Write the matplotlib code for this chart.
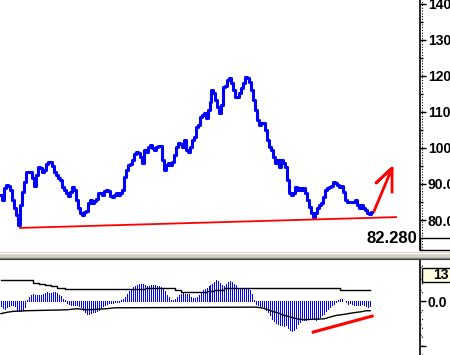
import matplotlib
matplotlib.use("Agg")
import matplotlib.pyplot as plt
from matplotlib.patches import Rectangle

# closing prices, one per bar
price = [86.9, 85.6, 88.9, 89.7, 89.4, 88.3, 85.6, 83.3, 81.4, 78.6,
         84.2, 87.8, 90.6, 93.3, 93.3, 93.3, 91.7, 89.4, 92.5, 94.7,
         94.4, 93.3, 93.9, 95.6, 96.1, 96.1, 95.0, 93.3, 92.5, 91.7,
         91.1, 89.2, 88.3, 87.5, 86.7, 87.8, 89.2, 88.3, 85.6, 83.3,
         81.9, 81.4, 82.2, 82.5, 84.7, 85.6, 84.7, 85.3, 85.8, 87.5,
         87.5, 86.9, 88.1, 88.3, 88.1, 86.7, 86.4, 86.9, 87.5, 86.9,
         87.5, 88.3, 91.9, 93.9, 95.3, 95.6, 96.7, 98.3, 98.9, 98.6,
         97.5, 95.8, 99.4, 98.9, 100.3, 100.8, 100.0, 99.4, 100.3, 100.6,
         100.6, 96.7, 93.9, 95.3, 95.8, 95.3, 96.1, 98.1, 100.3, 101.4,
         101.1, 100.3, 102.2, 99.4, 98.9, 100.3, 102.2, 103.1, 105.8, 106.4,
         108.6, 109.2, 109.7, 108.3, 110.6, 112.8, 116.1, 115.3, 113.3, 111.4,
         109.7, 111.9, 116.9, 117.2, 118.9, 119.4, 118.1, 116.1, 114.2, 114.2,
         115.3, 116.7, 118.1, 119.7, 119.4, 118.3, 116.1, 113.3, 110.6, 107.8,
         106.4, 106.9, 106.9, 105.0, 102.2, 100.3, 99.4, 97.5, 95.8, 96.7,
         94.7, 96.7, 95.8, 94.7, 91.1, 87.5, 86.9, 87.5, 89.2, 88.3,
         88.9, 88.3, 88.9, 87.5, 85.6, 83.6, 81.9, 80.8, 81.9, 83.3,
         84.2, 84.7, 86.4, 88.3, 88.9, 89.2, 89.4, 90.6, 90.3, 89.7,
         89.2, 89.4, 87.8, 85.6, 85.0, 85.0, 85.0, 85.0, 85.6, 84.2,
         83.3, 84.2, 83.3, 82.8, 81.9, 81.7, 82.28]

# oscillator histogram
hist = [-2.4, -3.0, -3.4, -2.7, -2.4, -1.9, -1.9, -2.4, -3.9, -4.4,
        -4.4, -4.1, -2.7, 0.6, 1.8, 2.8, 3.3, 2.8, 2.8, 2.8,
        2.8, 3.3, 3.6, 3.9, 3.6, 3.6, 3.9, 3.9, 3.6, 2.8,
        2.1, 1.0, 0.3, -0.9, -1.5, -1.9, -1.9, -1.9, -1.9, -2.4,
        -2.7, -3.9, -4.9, -5.9, -5.9, -5.3, -5.0, -4.9, -4.4, -3.9,
        -3.0, -2.4, -1.9, -1.2, -0.9, -0.9, -0.7, -0.4, -0.4, -0.4,
        0.3, 1.0, 1.8, 3.3, 4.4, 5.5, 6.2, 6.5, 7.1, 7.4,
        7.4, 7.4, 7.1, 6.5, 6.5, 7.0, 7.0, 7.0, 6.5, 6.5,
        6.2, 5.5, 4.4, 2.5, 1.8, 0.6, 0.3, 1.0, 1.8, 2.5,
        3.3, 3.6, 3.3, 3.3, 3.0, 1.8, 1.5, 1.5, 1.8, 2.5,
        3.6, 5.0, 5.5, 5.9, 6.5, 7.0, 7.7, 8.4, 9.2, 8.9,
        8.0, 7.0, 6.5, 7.7, 8.4, 8.9, 8.4, 7.7, 7.0, 5.9,
        5.5, 5.9, 5.9, 5.9, 5.5, 5.0, 3.3, 0.3, -1.2, -1.9,
        -2.4, -2.4, -3.0, -3.9, -4.9, -6.4, -7.9, -8.9, -9.8, -10.4,
        -10.8, -10.8, -11.3, -10.8, -11.9, -13.0, -13.3, -13.0, -11.9, -10.4,
        -9.3, -8.6, -8.6, -8.3, -8.0, -7.9, -8.0, -8.1, -8.3, -8.0,
        -7.1, -6.4, -5.6, -4.4, -3.4, -2.7, -1.9, -1.2, -0.4, 0.3,
        0.7, 1.0, -0.2, -0.4, -1.2, -0.9, -1.5, -1.6, -1.6, -1.9,
        -1.9, -1.5, -1.9, -2.4, -2.7, -2.4]

# band lines of the oscillator (bar index, level)
upper_x = [0, 15, 16, 19, 22, 25, 28, 32, 62, 64, 72, 83, 87, 90, 100, 103, 107, 111, 112, 127, 170, 185]
upper_y = [9.2, 9.2, 8.1, 7.7, 7.0, 6.5, 5.9, 5.2, 5.2, 5.2, 5.8, 5.8, 4.7, 4.0, 4.0, 4.4, 4.7, 5.0, 5.9, 5.8, 4.7, 4.7]
lower_x = [0, 3, 6, 13, 33, 38, 43, 53, 57, 128, 131, 134, 136, 139, 141, 144, 146, 149, 152, 162, 165, 168, 172, 176, 181, 183, 185]
lower_y = [-5.6, -5.0, -4.6, -4.3, -3.9, -3.4, -3.9, -3.4, -3.0, -2.7, -3.1, -3.9, -4.6, -5.3, -6.1, -6.8, -7.4, -8.0, -8.3, -7.9, -7.1, -6.4, -5.9, -5.3, -4.7, -4.3, -4.3]

# hand drawn red lines
support_x = [9.5, 198]
support_y = [77.8, 80.8]
arrow_x = [187, 196, 188, 196, 196]
arrow_y = [82.5, 94.4, 90.3, 94.4, 87.8]
div_x = [156.5, 186]
div_y = [-13.8, -6.7]

last = "82.280"

W, H = 450, 355
fig = plt.figure(figsize=(4.5, 3.55), dpi=100)
fig.patch.set_facecolor("white")

font = dict(family="Liberation Sans", weight="bold", size=10)

# ---- price panel
ax = fig.add_axes([0, 105 / H, 420 / W, 250 / H])
xs = list(range(len(price)))
ax.plot(xs, price, color="#0000ff", lw=2.2, drawstyle="steps-mid")
ax.plot(support_x, support_y, color="#ff0000", lw=1.3)
ax.plot(arrow_x, arrow_y, color="#ff0000", lw=2.0)
ax.set_xlim(-0.5, 210)
ax.set_ylim(71.67, 141.1)
ax.yaxis.tick_right()
ticks = [80, 90, 100, 110, 120, 130, 140]
ax.set_yticks(ticks)
ax.set_yticklabels(["%.1f" % t if t < 100 else "%d" % t for t in ticks], **font)
ax.set_yticks([85, 95, 105, 115, 125, 135], minor=True)
ax.tick_params(axis="y", which="major", direction="out", length=4, width=1, pad=1.5, right=True, left=False)
ax.tick_params(axis="y", which="minor", direction="out", length=2, width=1, right=True, left=False)
ax.set_xticks([])
for s in ["top", "left", "bottom"]:
    ax.spines[s].set_visible(False)
ax.spines["right"].set_linewidth(1.2)
ax.text(417 / 420, 4 / 250, last, transform=ax.transAxes, ha="right", va="bottom",
        family="Liberation Sans", weight="bold", size=12)

# ---- oscillator panel
bx = fig.add_axes([0, 0, 420 / W, 96 / H])
bx.vlines(range(len(hist)), 0, hist, colors="#0000ff", lw=0.72, antialiased=False)
bx.plot(upper_x, upper_y, color="black", lw=1.0, drawstyle="steps-post")
bx.plot(lower_x, lower_y, color="black", lw=1.0)
bx.plot(div_x, div_y, color="#ff0000", lw=2.2)
bx.set_xlim(-0.5, 210)
bx.set_ylim(-24, 18.7)
bx.yaxis.tick_right()
bx.set_yticks([0, -20])
bx.set_yticklabels(["0.0", ""], **font)
bx.set_yticks([-15, -10, -5, 5, 10, 15], minor=True)
bx.tick_params(axis="y", which="major", direction="out", length=4, width=1, pad=1.5, right=True, left=False)
bx.tick_params(axis="y", which="minor", direction="out", length=1, width=1, right=True, left=False)
bx.set_xticks([])
for s in ["top", "left", "bottom"]:
    bx.spines[s].set_visible(False)
bx.spines["right"].set_linewidth(1.2)

# ---- window chrome: separator, dotted scale, value box
fig.add_artist(Rectangle((0, (H - 259) / H), 1, 7 / H, transform=fig.transFigure,
                         facecolor="#d4d0c8", edgecolor="none"))
fig.add_artist(plt.Line2D([0, 1], [(H - 252.5) / H] * 2, color="white", lw=1))
fig.add_artist(plt.Line2D([0, 1], [(H - 257.5) / H] * 2, color="#808080", lw=1))
fig.add_artist(plt.Line2D([0, 1], [(H - 258.5) / H] * 2, color="#404040", lw=0.8))
fig.add_artist(plt.Line2D([421.5 / W] * 2, [(H - 250) / H, 1], color="black", lw=0.8, ls=(0, (1, 1.5))))
fig.add_artist(plt.Line2D([421.5 / W] * 2, [0, (H - 262) / H], color="black", lw=0.8, ls=(0, (1, 7))))
fig.add_artist(Rectangle((420 / W, (H - 250) / H), 40 / W, 12 / H, transform=fig.transFigure,
                         facecolor="white", edgecolor="black", lw=1))
fig.add_artist(Rectangle((422 / W, (H - 282) / H), 40 / W, 14 / H, transform=fig.transFigure,
                         facecolor="#ffffe0", edgecolor="black", lw=1))
fig.text(449 / W, (H - 275) / H, "13", ha="right", va="center", **font)

fig.savefig("out.png", dpi=100, facecolor="white")
